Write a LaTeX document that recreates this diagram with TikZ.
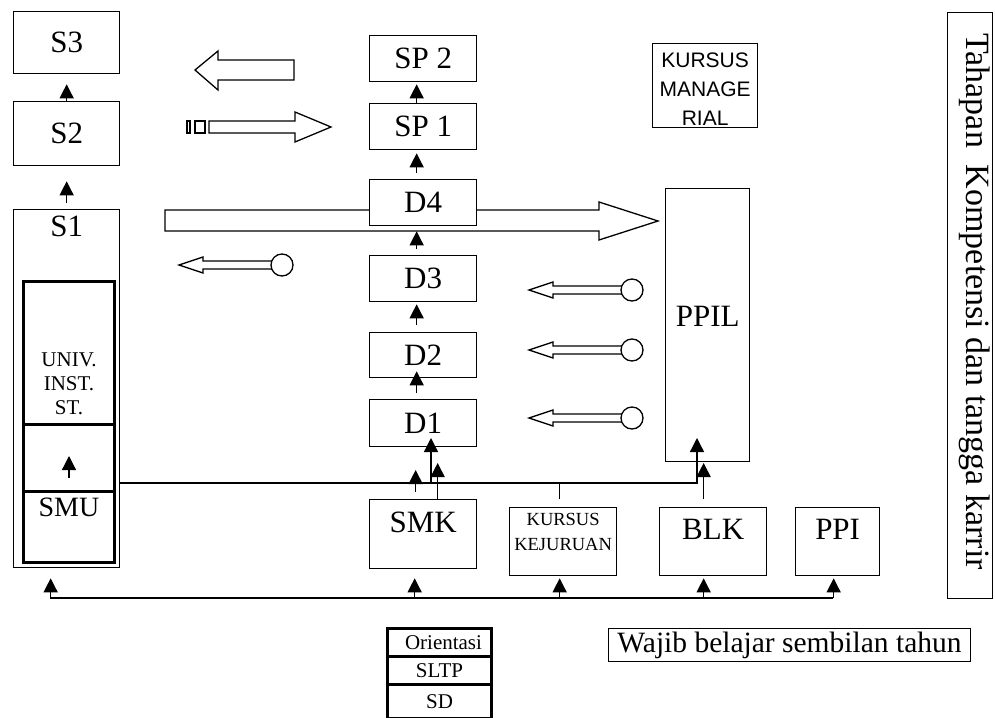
\documentclass[tikz,border=0pt]{standalone}
\usepackage{fontspec}
\setmainfont{Liberation Serif}
\newfontfamily\arialfont{Liberation Sans}
\usetikzlibrary{arrows.meta, positioning}

\begin{document}
\begin{tikzpicture}[
    x=1pt, y=-1pt,
    box/.style={draw, rectangle, line width=1.3pt, fill=white, anchor=north west, inner sep=0pt, align=center},
    big/.style={font=\fontsize{31}{34}\selectfont},
    row/.style={box, line width=3pt, minimum width=104pt, minimum height=28pt, font=\fontsize{21}{23}\selectfont},
    arrow/.style={-{Triangle[width=14pt,length=14pt]}, line width=1.3pt},
    hollow/.style={draw, line width=1.3pt, fill=white, line join=miter}
  ]
  \useasboundingbox (0,0) rectangle (995,717);

  % block arrows
  \draw[hollow] (294,60) -- (218,60) -- (218,51) -- (195,70) -- (218,90) -- (218,80) -- (294,80) -- cycle;
  \draw[hollow] (209,121) -- (295,121) -- (295,112) -- (331,127) -- (295,142) -- (295,133) -- (209,133) -- cycle;
  \draw[hollow] (187,121) rectangle (190,133);
  \draw[hollow] (195,121) rectangle (205,133);
  \draw[hollow] (165,210) -- (599,210) -- (599,202) -- (658,221) -- (599,240) -- (599,231) -- (165,231) -- cycle;
  \foreach \x/\y in {179/265, 529/290, 529/350, 529/418}{
    \draw[hollow] (\x,\y) -- ++(24,-8) -- ++(0,4) -- ++(71,0) -- ++(0,8) -- ++(-71,0) -- ++(0,4) -- cycle;
    \draw[hollow] (\x+103,\y) circle [radius=11pt];
  }

  % S column
  \node[box, big, minimum width=106pt, minimum height=62pt] (s3) at (13,11) {S3};
  \node[box, big, minimum width=106pt, minimum height=64pt] (s2) at (13,101) {S2};
  \node[box, minimum width=106pt, minimum height=358pt] (s1) at (13,209) {};
  \node[big] at ([yshift=-17pt]s1.north) {S1};
  \node[box, line width=3pt, minimum width=91pt, minimum height=143pt] (univ) at (22,280) {};
  \node[box, line width=3pt, minimum width=91pt, minimum height=67pt] (mid) at (22,423) {};
  \node[box, line width=3pt, minimum width=91pt, minimum height=71pt] (smu) at (22,490) {};
  \node[font=\fontsize{21}{24}\selectfont, align=center] at ([yshift=-31pt]univ.center) {UNIV.\\INST.\\ST.};
  \node[font=\fontsize{28}{30}\selectfont] at ([yshift=-17pt]smu.north) {SMU};
  \draw[arrow] ([yshift=-20pt]mid.center) -- ([yshift=2pt]mid.center);
  \draw[arrow] (s2.north) -- ([yshift=-10pt]s3.south);
  \draw[arrow] ([yshift=6pt]s1.north) -- ([yshift=-15pt]s2.south);

  % D column
  \node[box, big, minimum width=107pt, minimum height=46pt] (sp2) at (369,35) {SP 2};
  \node[box, big, minimum width=107pt, minimum height=46pt] (sp1) at (369,103) {SP 1};
  \node[box, big, minimum width=107pt, minimum height=46pt] (d4) at (369,179) {D4};
  \node[box, big, minimum width=107pt, minimum height=46pt] (d3) at (369,255) {D3};
  \node[box, big, minimum width=107pt, minimum height=45pt] (d2) at (369,332) {D2};
  \node[box, big, minimum width=107pt, minimum height=47pt] (d1) at (369,399) {D1};
  \foreach \a/\b/\t/\h in {sp1/sp2/0/-2, d4/sp1/6/-3, d3/d4/6/-5, d2/d3/7/-2, d1/d2/6/7}
    \draw[arrow] ([xshift=-6.5pt,yshift=\t pt]\a.north) -- ([xshift=-6.5pt,yshift=\h pt]\b.south);

  % right side
  \node[box, minimum width=105pt, minimum height=84pt] (kman) at (652,43) {};
  \node[font=\arialfont\fontsize{21}{29}\selectfont, align=center] at ([yshift=-46pt]kman.north) {KURSUS\\MANAGE\\RIAL};
  \node[box, minimum width=84pt, minimum height=273pt] (ppil) at (665,188) {};
  \node[big] at ([yshift=-128pt]ppil.north) {PPIL};
  \node[box, minimum width=45pt, minimum height=586pt] (tahap) at (947,12) {};
  \node[font=\fontsize{34}{36}\selectfont, rotate=-90] at ([xshift=4pt,yshift=4pt]tahap.center) {Tahapan\ \ Kompetensi dan tangga karrir};

  % bottom row
  \node[box, minimum width=107pt, minimum height=69pt] (smk) at (369,499) {};
  \node[big] at ([yshift=-23pt]smk.north) {SMK};
  \node[box, minimum width=107pt, minimum height=68pt] (kk) at (509,507) {};
  \node[font=\fontsize{18.5}{25}\selectfont, align=center] at ([yshift=-24.5pt]kk.north) {KURSUS\\KEJURUAN};
  \node[box, minimum width=107pt, minimum height=68pt] (blk) at (659,507) {};
  \node[big] at ([yshift=-22pt]blk.north) {BLK};
  \node[box, minimum width=84pt, minimum height=68pt] (ppi) at (795,507) {};
  \node[big] at ([yshift=-22pt]ppi.north) {PPI};

  % connectors
  \coordinate (smuout) at (119,483);
  \coordinate (ppilin) at (697,438);
  \coordinate (d1in) at (431,438);
  \draw[arrow] (smuout) -| (ppilin);
  \draw[arrow] (d1in |- smuout) -- (d1in);
  \draw[arrow] ([xshift=14.5pt]smk.north) -- ([xshift=14.5pt,yshift=36pt]smk.north);
  \draw[arrow] ([xshift=-7.5pt,yshift=7pt]smk.north) -- ([xshift=-7.5pt,yshift=29pt]smk.north);
  \draw[line width=1.3pt] ([xshift=-3.5pt,yshift=8pt]kk.north) -- ([xshift=-3.5pt]kk.north |- smuout);
  \draw[arrow] ([xshift=-9.5pt,yshift=8pt]blk.north) -- ([xshift=-9.5pt,yshift=44pt]blk.north);

  \coordinate (bl) at (50,598);
  \coordinate (br) at (833,598);
  \draw[line width=1.3pt] (bl) -- (br);
  \foreach \n/\dx/\gap in {s1/-16/-10, smk/-8.5/-9, kk/-3.5/-2, blk/-9.5/-2, ppi/-4/-2}
    \draw[arrow] ([xshift=\dx pt]\n.south |- bl) -- ([xshift=\dx pt, yshift=\gap pt]\n.south);

  % bottom table
  \node[row] (orient) at (386,627) {\hspace{8pt}Orientasi};
  \node[row] (sltp) at (386,655) {SLTP};
  \node[row, minimum height=34pt] (sd) at (386,683) {SD};
  \node[box, line width=1pt, minimum width=362pt, minimum height=33pt, font=\fontsize{29.5}{31}\selectfont] (wajib) at (608,628) {Wajib belajar sembilan tahun};
\end{tikzpicture}
\end{document}
